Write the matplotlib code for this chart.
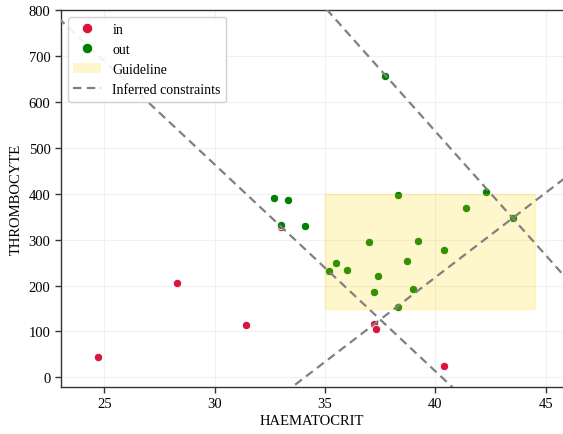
import numpy as np
import matplotlib
matplotlib.use("Agg")
import matplotlib.pyplot as plt
from matplotlib.patches import Rectangle
from matplotlib.lines import Line2D

# Patients inside / outside the reference range
in_haem = [24.7, 28.3, 31.4, 33.0, 37.2, 37.3, 40.4]
in_thromb = [45, 206, 115, 327, 116, 105, 25]

out_haem = [32.7, 33.3, 33.0, 34.1, 38.3, 42.3, 41.4, 43.5, 37.0, 39.2,
            40.4, 35.5, 35.2, 36.0, 38.7, 37.4, 37.2, 39.0, 38.3, 37.7]
out_thromb = [391, 386, 331, 329, 397, 403, 369, 347, 295, 298,
              277, 250, 232, 233, 253, 221, 186, 193, 154, 657]

# Guideline box: haematocrit range and thrombocyte range
guide_haem = [35.0, 44.5]
guide_thromb = [150, 400]

# Inferred linear constraints: thrombocyte = slope * haematocrit + intercept
constraint_slopes = [-45.0, -53.9, 36.8]
constraint_intercepts = [1813.5, 2691.8, -1254.1]

plt.rcParams["font.family"] = ["Liberation Serif", "DejaVu Serif"]
plt.rcParams["font.size"] = 10.5

fig = plt.figure(figsize=(5.63, 4.35), dpi=100)
ax = fig.add_axes([0.1083, 0.109, 0.8922, 0.8657])

ax.set_xlim(23.03, 45.8)
ax.set_ylim(-20, 800)

ax.grid(True, color="#f0f0f0", linewidth=0.8, zorder=0)
ax.set_axisbelow(True)

ax.scatter(in_haem, in_thromb, s=36, color="#DC143C", edgecolor="white",
           linewidth=0.6, zorder=3, label="in")
ax.scatter(out_haem, out_thromb, s=36, color="#008000", edgecolor="white",
           linewidth=0.6, zorder=3, label="out")

rect = Rectangle((guide_haem[0], guide_thromb[0]),
                 guide_haem[1] - guide_haem[0], guide_thromb[1] - guide_thromb[0],
                 facecolor="#FFD700", edgecolor="#FFD700", linewidth=1.0,
                 alpha=0.2, zorder=4)
ax.add_patch(rect)

xs = np.linspace(22, 47, 200)
for m, b in zip(constraint_slopes, constraint_intercepts):
    ax.plot(xs, m * xs + b, color="gray", linestyle="--", linewidth=1.6,
            dashes=(3.8, 2.4), zorder=5)

ax.set_xticks([25, 30, 35, 40, 45])
ax.set_yticks([0, 100, 200, 300, 400, 500, 600, 700, 800])
ax.set_xlabel("HAEMATOCRIT", labelpad=3)
ax.set_ylabel("THROMBOCYTE", labelpad=4)

for side in ["left", "bottom", "top"]:
    ax.spines[side].set_color("#333333")
    ax.spines[side].set_linewidth(1.0)
ax.spines["right"].set_visible(False)
ax.tick_params(axis="both", direction="out", length=4, width=1.0,
               color="#333333", labelcolor="black")

handles = [
    Line2D([], [], marker="o", linestyle="none", markersize=7.5,
           markerfacecolor="#DC143C", markeredgecolor="white", markeredgewidth=0.6),
    Line2D([], [], marker="o", linestyle="none", markersize=7.5,
           markerfacecolor="#008000", markeredgecolor="white", markeredgewidth=0.6),
    Rectangle((0, 0), 1, 1, facecolor="#FFD700", alpha=0.2, edgecolor="none"),
    Line2D([], [], color="gray", linestyle="--", linewidth=1.6, dashes=(3.8, 2.4)),
]
leg = ax.legend(handles, ["in", "out", "Guideline", "Inferred constraints"],
                loc="upper left", frameon=True, fancybox=True, framealpha=0.9,
                edgecolor="#cccccc", borderpad=0.4, labelspacing=0.52,
                handlelength=2.0, handletextpad=0.8, borderaxespad=0.5,
                fontsize=10)
leg.set_zorder(10)

fig.savefig("out.png", dpi=100)
